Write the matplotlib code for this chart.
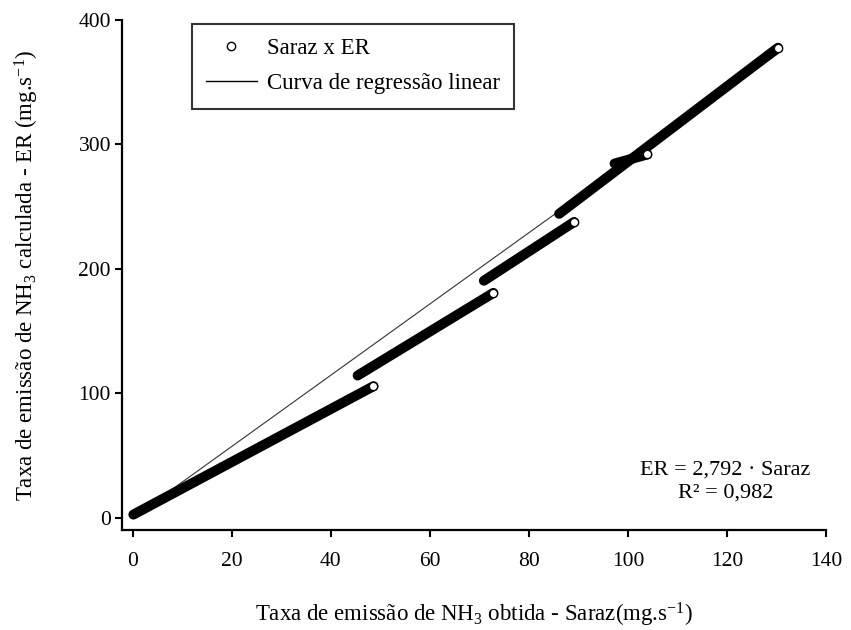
import matplotlib
matplotlib.use("Agg")
import matplotlib.pyplot as plt
from matplotlib.lines import Line2D

plt.rcParams['font.family'] = ['Liberation Serif', 'DejaVu Serif']
plt.rcParams['mathtext.fontset'] = 'custom'
plt.rcParams['mathtext.rm'] = 'Liberation Serif'
plt.rcParams['mathtext.it'] = 'Liberation Serif:italic'

# Data segments (start and end of each dense run of points)
seg1_x = [0.1, 48.6]
seg1_y = [2.4, 105.6]
seg2_x = [45.4, 72.8]
seg2_y = [114.2, 180.6]
seg3_x = [70.9, 89.1]
seg3_y = [190.4, 237.6]
seg4_x = [86.1, 130.3]
seg4_y = [244.2, 377.7]
seg5_x = [97.3, 103.9]
seg5_y = [284.6, 291.9]
segments = [(seg1_x, seg1_y), (seg2_x, seg2_y), (seg3_x, seg3_y),
            (seg4_x, seg4_y), (seg5_x, seg5_y)]

# Regression line as drawn
reg_x = [0, 130.3]
reg_y = [0, 373]

x_ticks = [0, 20, 40, 60, 80, 100, 120, 140]
y_ticks = [0, 100, 200, 300, 400]

fig = plt.figure(figsize=(8.51, 6.30), dpi=100)
ax = fig.add_axes([122/851, 1-530/630, (826-122)/851, (530-20)/630])

ax.plot(reg_x, reg_y, color='#333333', lw=0.8, zorder=2)
for sx, sy in segments:
    ax.plot(sx, sy, color='black', lw=7.2, solid_capstyle='round', zorder=3)
    ax.plot(sx[-1], sy[-1], 'o', ms=6, mfc='white', mec='black', mew=1.0, zorder=4)

ax.set_xlim(-2.2, 140)
ax.set_ylim(-10, 400)
ax.set_xticks(x_ticks)
ax.set_yticks(y_ticks)
ax.spines['top'].set_visible(False)
ax.spines['right'].set_visible(False)
for s in ['left', 'bottom']:
    ax.spines[s].set_linewidth(1.6)
ax.tick_params(direction='out', length=5, width=1.5, labelsize=15.5)
ax.tick_params(axis='x', pad=11)
ax.tick_params(axis='y', pad=3)

ax.set_xlabel('Taxa de emissão de NH$_3$ obtida - Saraz(mg.s$^{-1}$)', fontsize=16.5, labelpad=21)
ax.set_ylabel('Taxa de emissão de NH$_3$ calculada - ER (mg.s$^{-1}$)', fontsize=16.5, labelpad=27)

handles = [Line2D([], [], ls='none', marker='o', ms=6, mfc='white', mec='black', mew=1.0),
           Line2D([], [], color='black', lw=1.0)]
leg = ax.legend(handles, ['Saraz x ER', 'Curva de regressão linear'],
                loc='upper left', bbox_to_anchor=(192/851, 1-24/630),
                bbox_transform=fig.transFigure, fontsize=16.5, frameon=True,
                fancybox=False, shadow=False, handlelength=2.2, handletextpad=0.45,
                labelspacing=0.62, borderpad=0.62, borderaxespad=0)
leg.get_frame().set_edgecolor('black')
leg.get_frame().set_linewidth(1.5)

ax.text(0.857, 0.095, 'ER = 2,792 · Saraz\nR² = 0,982', transform=ax.transAxes,
        ha='center', va='center', fontsize=16, linespacing=1.35)

fig.savefig('out.png', dpi=100)
